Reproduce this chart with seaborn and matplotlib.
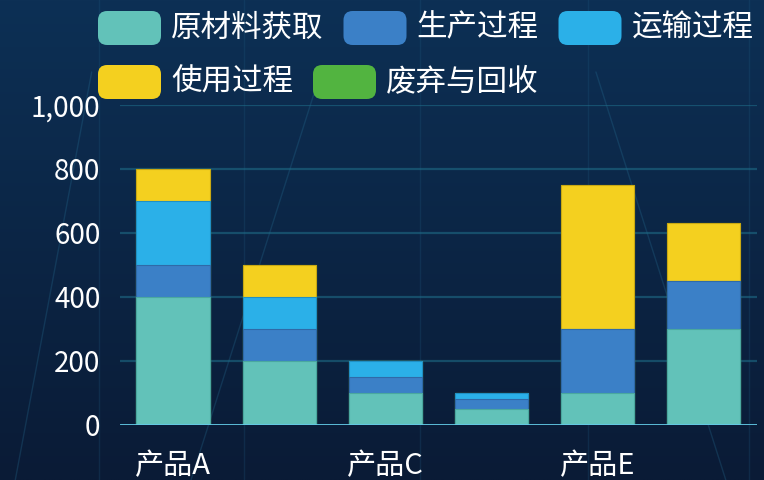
import numpy as np
import pandas as pd
import matplotlib
matplotlib.use("Agg")
import matplotlib.pyplot as plt
from matplotlib.patches import FancyBboxPatch
from matplotlib.ticker import FuncFormatter
import seaborn as sns

# ---- data ----
products = ["产品A", "产品B", "产品C", "产品D", "产品E", "产品F"]
series_names = ["原材料获取", "生产过程", "运输过程", "使用过程", "废弃与回收"]
raw_material = [400, 200, 100, 50, 100, 300]
production = [100, 100, 50, 30, 200, 150]
transport = [200, 100, 50, 20, 0, 0]
usage = [100, 100, 0, 0, 450, 180]
disposal = [0, 0, 0, 0, 0, 0]
y_ticks = [0, 200, 400, 600, 800, 1000]
colors = ["#62c2b9", "#3b80c7", "#2bb0e8", "#f4d01f", "#52b440"]
edge_colors = ["#4aa89f", "#2f6aa8", "#2090c4", "#c9a812", "#3f9430"]

sns.set_theme(style="white")
plt.rcParams["font.family"] = ["Noto Sans CJK SC", "DejaVu Sans"]

W, H = 764, 480
fig = plt.figure(figsize=(W / 100, H / 100), dpi=100)

# background gradient
bg = fig.add_axes([0, 0, 1, 1], zorder=-10)
grad = np.linspace(0, 1, 256)[:, None]
top_c = np.array([0x0d, 0x30, 0x55]) / 255
bot_c = np.array([0x0a, 0x1b, 0x36]) / 255
img = top_c[None, None, :] * (1 - grad[:, :, None]) + bot_c[None, None, :] * grad[:, :, None]
img = np.repeat(img, 4, axis=1)
bg.imshow(img, aspect="auto", extent=[0, 1, 0, 1])
# faint decorative lines
for xx in [0.13, 0.32, 0.55, 0.77, 0.98]:
    bg.plot([xx, xx], [0, 1], color="#1f5a80", alpha=0.25, lw=1)
for (x0, x1) in [(0.02, 0.12), (0.25, 0.42), (0.95, 0.78)]:
    bg.plot([x0, x1], [0, 0.85], color="#2a7aa0", alpha=0.25, lw=1)
bg.set_xlim(0, 1); bg.set_ylim(0, 1)
bg.axis("off")

left, right = 120 / W, 756.5 / W
bottom, top = 1 - 425 / H, 1 - 105 / H
ax = fig.add_axes([left, bottom, right - left, top - bottom])
ax.set_facecolor("none")

layers = [raw_material, production, transport, usage, disposal]
cum = np.cumsum(np.array(layers), axis=0)
for i in range(len(layers) - 1, -1, -1):
    df = pd.DataFrame({"product": products, "value": cum[i]})
    sns.barplot(data=df, x="product", y="value", ax=ax, color=colors[i],
                width=0.69, saturation=1, edgecolor=edge_colors[i], linewidth=0.8,
                zorder=3)

ax.set_xlim(-0.5, len(products) - 0.5)
ax.set_ylim(0, 1000)
ax.set_yticks(y_ticks)
ax.yaxis.set_major_formatter(FuncFormatter(lambda v, p: f"{int(v):,}"))
for yt in y_ticks[1:]:
    ax.axhline(yt, color="#1e6a86", lw=1.6, alpha=0.6, zorder=1)
ax.axhline(0, color="#63cbe8", lw=2, zorder=4)
ax.set_xticks(range(len(products)))
ax.set_xticklabels([p if k % 2 == 0 else "" for k, p in enumerate(products)])
ax.tick_params(axis="both", length=0, colors="white")
ax.tick_params(axis="y", labelsize=20, pad=14)
ax.tick_params(axis="x", labelsize=21, pad=19)
for sp in ax.spines.values():
    sp.set_visible(False)
ax.set_xlabel("")
ax.set_ylabel("")

# legend (manual, wrapping like the reference)
renderer = fig.canvas.get_renderer()
box_w, box_h = 63, 34
x_start, x = 98, 98
row_y = [28, 82]
row = 0
for name, c in zip(series_names, colors):
    t = fig.text(0, 0, name, fontsize=22, color="white")
    tw = t.get_window_extent(renderer).width
    t.remove()
    if x + box_w + 10 + tw > W:
        row += 1
        x = x_start
    yc = row_y[row]
    patch = FancyBboxPatch(((x) / W, (H - yc - box_h / 2) / H), box_w / W, box_h / H,
                           boxstyle="round,pad=0,rounding_size=0.012",
                           transform=fig.transFigure, facecolor=c, edgecolor="none",
                           mutation_aspect=W / H)
    fig.patches.append(patch)
    fig.text((x + box_w + 10) / W, (H - yc) / H, name, fontsize=22, color="white",
             va="center", ha="left")
    x += box_w + 10 + tw + 20

fig.savefig("out.png", dpi=100)
